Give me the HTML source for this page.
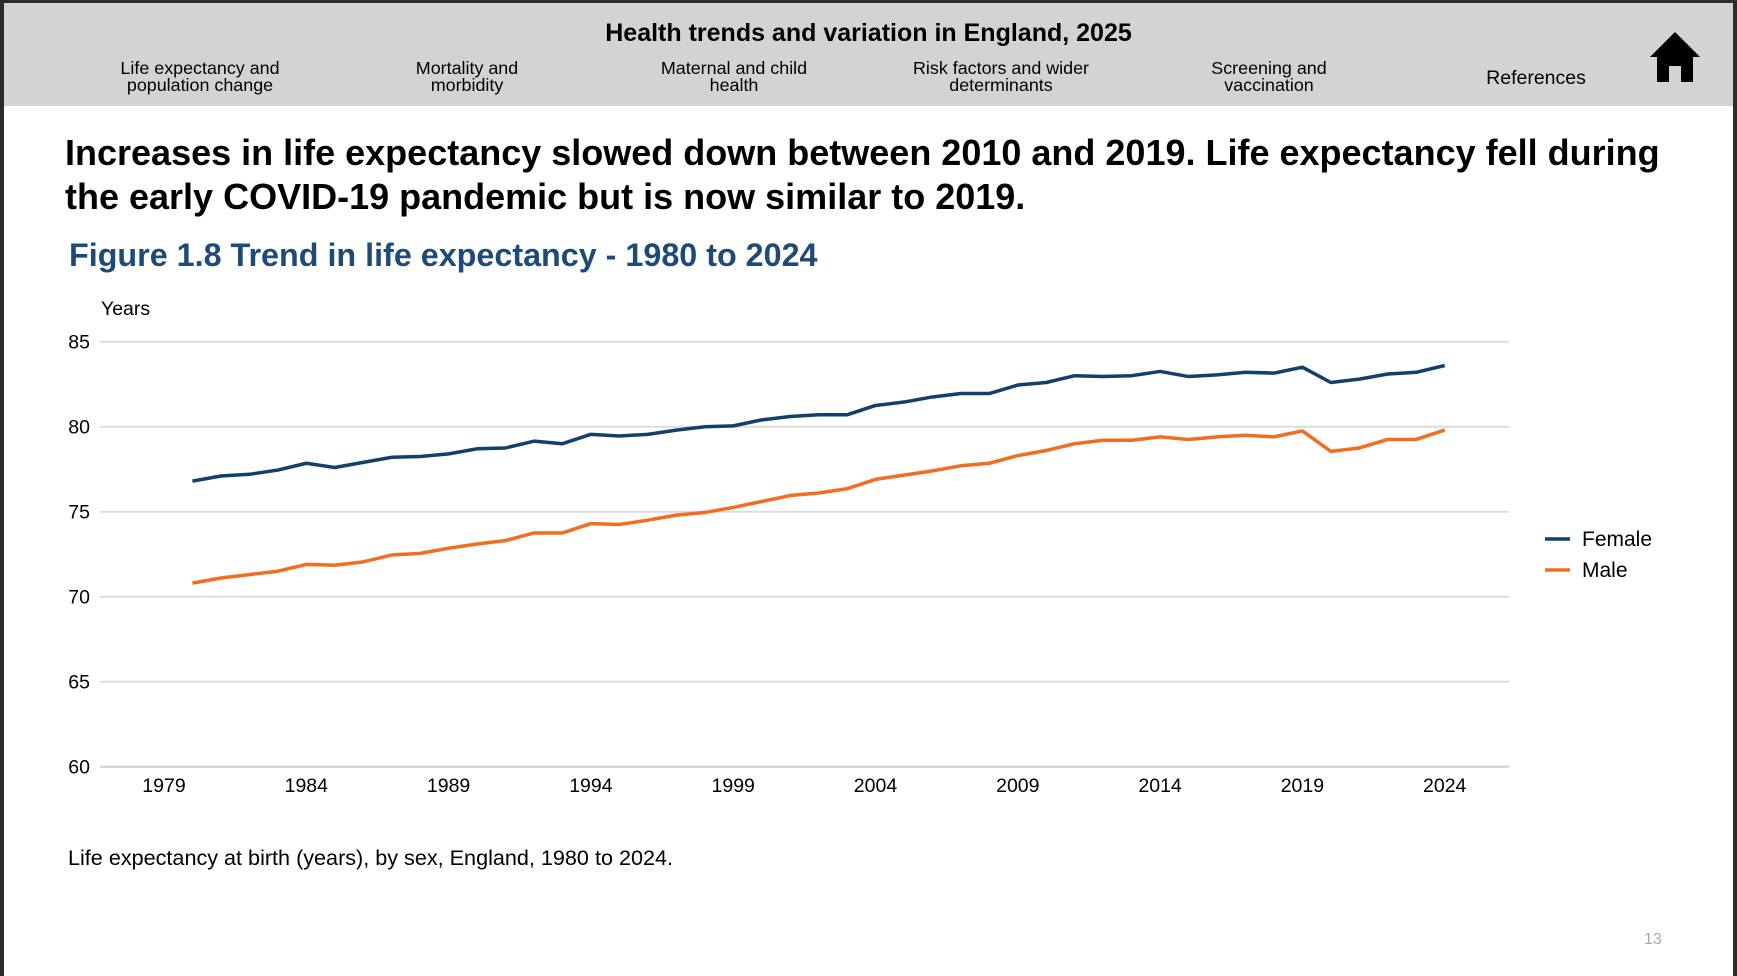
<!DOCTYPE html>
<html><head><meta charset="utf-8"><style>
html,body{margin:0;padding:0;width:1737px;height:976px;overflow:hidden;background:#2b2b2b;font-family:"Liberation Sans",Arial,sans-serif;}
#page{position:absolute;left:4px;top:3px;width:1729px;height:973px;background:#fff;}
#hdr{position:absolute;left:0;top:0;width:1729px;height:103px;background:#d3d3d3;}
.t{position:absolute;white-space:nowrap;}
.nav{position:absolute;top:57px;font-size:17.9px;line-height:17px;text-align:center;transform:translateX(-50%);color:#000;}
</style></head><body>
<div id="page">
<div id="hdr">
<div class="t" style="left:0;width:1729px;text-align:center;top:16px;font-size:25px;font-weight:bold;">Health trends and variation in England, 2025</div>
<div class="nav" style="left:196px">Life expectancy and<br>population change</div>
<div class="nav" style="left:463px">Mortality and<br>morbidity</div>
<div class="nav" style="left:730px">Maternal and child<br>health</div>
<div class="nav" style="left:997px">Risk factors and wider<br>determinants</div>
<div class="nav" style="left:1265px">Screening and<br>vaccination</div>
<div class="nav" style="left:1532px;top:67px;font-size:19.5px;">References</div>
<svg style="position:absolute;left:1645px;top:27px" width="52" height="54" viewBox="0 0 52 54"><polygon points="26,2 1,27 8,27 8,52 20,52 20,36 32,36 32,52 44,52 44,27 51,27" fill="#000"/></svg>
</div>
<div class="t" style="left:61px;top:128px;font-size:36px;font-weight:bold;line-height:44px;">Increases in life expectancy slowed down between 2010 and 2019. Life expectancy fell during<br>the early COVID-19 pandemic but is now similar to 2019.</div>
<div class="t" style="left:65px;top:234px;font-size:32.3px;font-weight:bold;color:#1d4a76;">Figure 1.8 Trend in life expectancy - 1980 to 2024</div>
<div class="t" style="left:64px;top:842px;font-size:21.6px;">Life expectancy at birth (years), by sex, England, 1980 to 2024.</div>
<div class="t" style="left:1640px;top:928px;font-size:16px;color:#aaa;">13</div>
</div>
<svg id="chart" style="position:absolute;left:0;top:0" width="1737" height="976"></svg>
<script>
const years=[1980,1981,1982,1983,1984,1985,1986,1987,1988,1989,1990,1991,1992,1993,1994,1995,1996,1997,1998,1999,2000,2001,2002,2003,2004,2005,2006,2007,2008,2009,2010,2011,2012,2013,2014,2015,2016,2017,2018,2019,2020,2021,2022,2023,2024];
const female=[76.8,77.1,77.2,77.45,77.85,77.6,77.9,78.2,78.25,78.4,78.7,78.75,79.15,79.0,79.55,79.45,79.55,79.8,80.0,80.05,80.4,80.6,80.7,80.7,81.25,81.45,81.75,81.95,81.95,82.45,82.6,83.0,82.95,83.0,83.25,82.95,83.05,83.2,83.15,83.5,82.6,82.8,83.1,83.2,83.6];
const male=[70.8,71.1,71.3,71.5,71.9,71.85,72.05,72.45,72.55,72.85,73.1,73.3,73.75,73.75,74.3,74.25,74.5,74.8,74.95,75.25,75.6,75.95,76.1,76.35,76.9,77.15,77.4,77.7,77.85,78.3,78.6,79.0,79.2,79.2,79.4,79.25,79.4,79.5,79.4,79.75,78.55,78.75,79.25,79.25,79.8];
const yTicks=[60,65,70,75,80,85];
const xTicks=[1979,1984,1989,1994,1999,2004,2009,2014,2019,2024];
const ns="http://www.w3.org/2000/svg",svg=document.getElementById('chart');
const X=v=>164+(v-1979)*28.46, Y=v=>341.7+(85-v)*17.0;
function mk(t,a,txt){const e=document.createElementNS(ns,t);for(const k in a)e.setAttribute(k,a[k]);if(txt!=null)e.textContent=txt;svg.appendChild(e);return e;}
const FONT='"Liberation Sans",Arial,sans-serif';
yTicks.forEach(v=>{
const l=mk('line',{x1:100,x2:1509,y1:Y(v),y2:Y(v),stroke:v===60?'#cfcfcf':'#dcdcdc','stroke-width':2});


const t=mk('text',{x:90,y:Y(v)+7,'text-anchor':'end','font-size':19.5,'font-family':FONT},v);


});
xTicks.forEach(v=>{
const t=mk('text',{x:X(v),y:792,'text-anchor':'middle','font-size':19.5,'font-family':FONT},v);


});
const yt=mk('text',{x:101,y:315,'font-size':19.5,'font-family':FONT},'Years');


[[female,'#123f6b','female-line'],[male,'#f26c21','male-line']].forEach(([d,c,n])=>{
const p=mk('polyline',{points:d.map((v,i)=>X(years[i])+','+Y(v)).join(' '),fill:'none',stroke:c,'stroke-width':3.5,'stroke-linejoin':'round'});


});
[['Female','#123f6b',539],['Male','#f26c21',570]].forEach(([n,c,y])=>{
const g=mk('g',{});


const l=document.createElementNS(ns,'line');l.setAttribute('x1',1545);l.setAttribute('x2',1570);l.setAttribute('y1',y);l.setAttribute('y2',y);l.setAttribute('stroke',c);l.setAttribute('stroke-width',3.5);g.appendChild(l);
const t=document.createElementNS(ns,'text');t.setAttribute('x',1582);t.setAttribute('y',y+7);t.setAttribute('font-size',21);t.setAttribute('font-family',FONT);t.textContent=n;g.appendChild(t);
});
</script>
</body></html>
